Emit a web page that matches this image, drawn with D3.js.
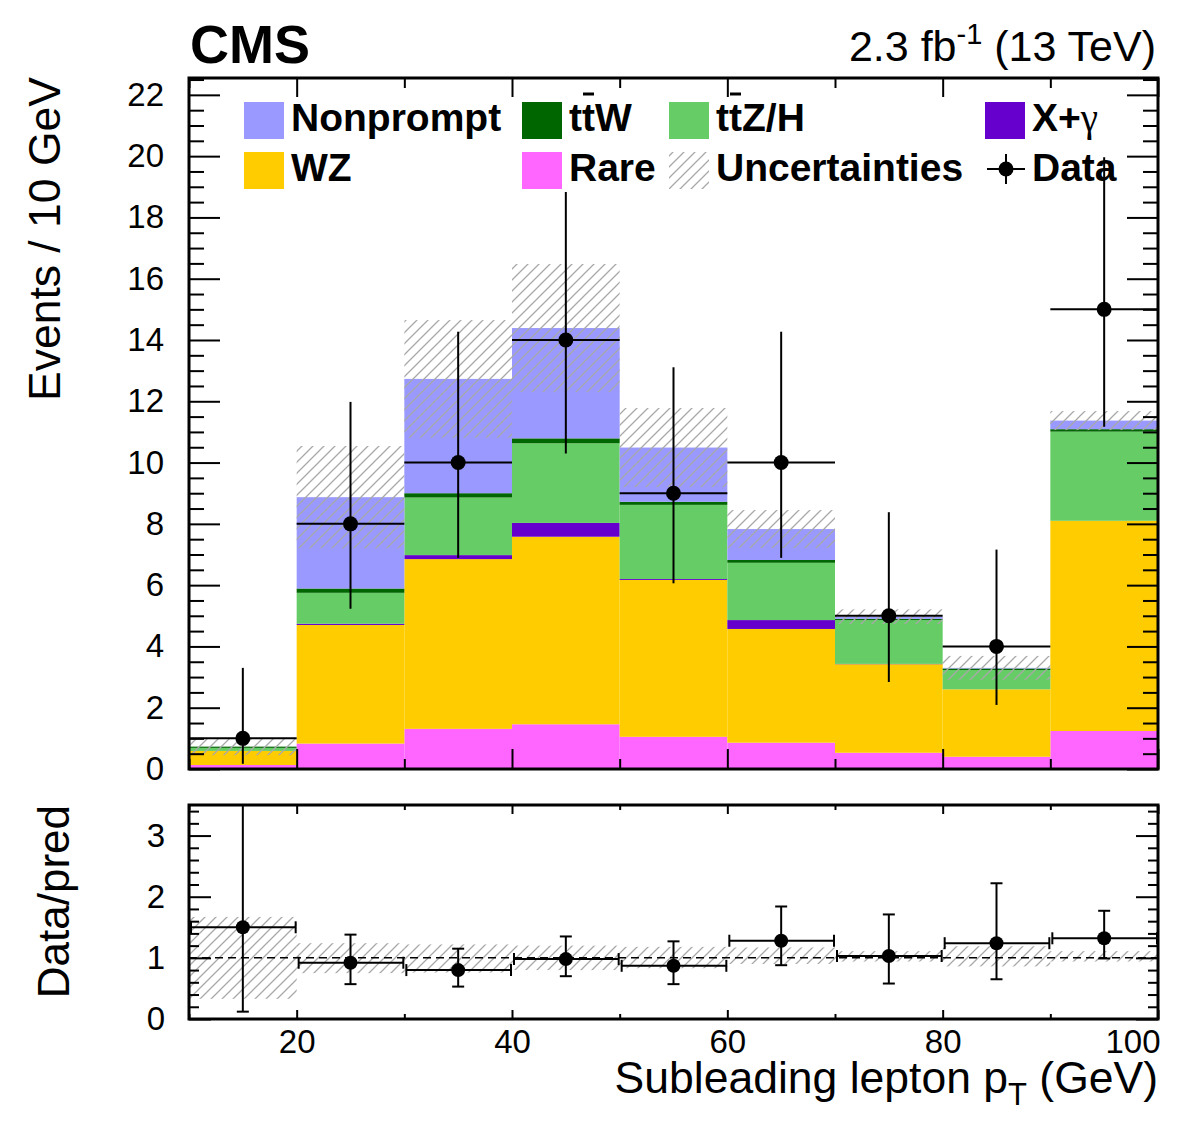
<!DOCTYPE html>
<html>
<head>
<meta charset="utf-8">
<script src="https://cdn.jsdelivr.net/npm/d3@7"></script>
<style>
  body { margin: 0; background: #fff; }
  text { font-family: "Liberation Sans", Arial, Helvetica, sans-serif; }
</style>
</head>
<body>
<svg id="chart"></svg>
<script>
// bins of subleading lepton pT (GeV)
const binEdges = [10, 20, 30, 40, 50, 60, 70, 80, 90, 100];

// stacked backgrounds, bottom to top (events per bin)
const rare      = [0.13, 0.83, 1.31, 1.46, 1.05, 0.86, 0.53, 0.40, 1.24];
const wz        = [0.46, 3.87, 5.54, 6.12, 5.12, 3.71, 2.89, 2.20, 6.86];
const xgamma    = [0.00, 0.04, 0.13, 0.45, 0.03, 0.29, 0.01, 0.00, 0.00];
const ttz       = [0.10, 1.01, 1.88, 2.60, 2.42, 1.87, 1.43, 0.63, 2.91];
const ttw       = [0.04, 0.14, 0.14, 0.16, 0.10, 0.09, 0.04, 0.05, 0.08];
const nonprompt = [0.00, 2.98, 3.73, 3.60, 1.77, 1.01, 0.07, 0.02, 0.28];
const mcUnc     = [0.28, 1.67, 1.92, 2.09, 1.29, 0.62, 0.24, 0.39, 0.31];

// observed data with asymmetric errors
const dataVals = [1, 8, 10, 14, 9, 10, 5, 4, 15];
const dataHi   = [3.30, 11.98, 14.27, 18.83, 13.11, 14.27, 8.38, 7.16, 19.96];
const dataLo   = [0.17, 5.23, 6.89, 10.30, 6.06, 6.89, 2.84, 2.09, 11.17];

// ratio panel
const ratioVals = [1.50, 0.92, 0.80, 0.98, 0.87, 1.28, 1.03, 1.24, 1.32];
const ratioHi   = [4.90, 1.38, 1.15, 1.35, 1.27, 1.84, 1.71, 2.22, 1.77];
const ratioLo   = [0.12, 0.57, 0.53, 0.70, 0.57, 0.88, 0.58, 0.65, 0.99];
const bandHi    = [1.67, 1.24, 1.22, 1.20, 1.18, 1.17, 1.11, 1.19, 1.11];
const bandLo    = [0.33, 0.75, 0.76, 0.80, 0.83, 0.90, 0.94, 0.86, 0.94];

const mainTicks = [0, 2, 4, 6, 8, 10, 12, 14, 16, 18, 20, 22];
const ratioTicks = [0, 1, 2, 3];
const xTicks = [20, 40, 60, 80, 100];

const keys = ["rare", "wz", "xgamma", "ttz", "ttw", "nonprompt"];
const colors = {
  rare: "#ff66ff", wz: "#ffcc00", xgamma: "#6600cc",
  ttz: "#66cc66", ttw: "#006600", nonprompt: "#9999ff"
};

const width = 1182, height = 1121;
const left = 189, right = 1158;
const mainTop = 78, mainBottom = 769;
const ratioTop = 805, ratioBottom = 1019;

const svg = d3.select("#chart").attr("width", width).attr("height", height);

const x = d3.scaleLinear().domain([10, 100]).range([left, right]);
const y = d3.scaleLinear().domain([0, 22.55]).range([mainBottom, mainTop]);
const yr = d3.scaleLinear().domain([0, 3.5]).range([ratioBottom, ratioTop]);

// hatch pattern
const defs = svg.append("defs");
const pat = defs.append("pattern")
  .attr("id", "hatch")
  .attr("patternUnits", "userSpaceOnUse")
  .attr("width", 11).attr("height", 11);
pat.append("path")
  .attr("d", "M0,11 L11,0 M-2,2 L2,-2 M9,13 L13,9")
  .attr("stroke", "#a8a8a8").attr("stroke-width", 1.3);

defs.append("clipPath").attr("id", "clipMain").append("rect")
  .attr("x", left).attr("y", mainTop).attr("width", right - left).attr("height", mainBottom - mainTop);
defs.append("clipPath").attr("id", "clipRatio").append("rect")
  .attr("x", left).attr("y", ratioTop).attr("width", right - left).attr("height", ratioBottom - ratioTop);

// stacked histogram
const rows = dataVals.map((_, i) => ({
  i, rare: rare[i], wz: wz[i], xgamma: xgamma[i], ttz: ttz[i], ttw: ttw[i], nonprompt: nonprompt[i]
}));
const stacked = d3.stack().keys(keys)(rows);
const totals = rows.map(r => keys.reduce((s, k) => s + r[k], 0));

const gMain = svg.append("g").attr("clip-path", "url(#clipMain)");

stacked.forEach(layer => {
  gMain.append("g").selectAll("rect")
    .data(layer)
    .join("rect")
    .attr("x", d => x(binEdges[d.data.i]))
    .attr("width", d => x(binEdges[d.data.i + 1]) - x(binEdges[d.data.i]))
    .attr("y", d => y(d[1]))
    .attr("height", d => Math.max(0, y(d[0]) - y(d[1])))
    .attr("fill", colors[layer.key]);
});

// uncertainty band
gMain.append("g").selectAll("rect")
  .data(totals)
  .join("rect")
  .attr("x", (d, i) => x(binEdges[i]))
  .attr("width", (d, i) => x(binEdges[i + 1]) - x(binEdges[i]))
  .attr("y", (d, i) => y(d + mcUnc[i]))
  .attr("height", (d, i) => y(Math.max(0, d - mcUnc[i])) - y(d + mcUnc[i]))
  .attr("fill", "url(#hatch)");

// ---- legend ----
const legend = svg.append("g");
const legRows = [131, 181];
const legEntries = [
  { col: 244, row: 0, key: "nonprompt", label: "Nonprompt" },
  { col: 522, row: 0, key: "ttw", label: "ttW", bar: true },
  { col: 669, row: 0, key: "ttz", label: "ttZ/H", bar: true },
  { col: 985, row: 0, key: "xgamma", label: "X+", gamma: true },
  { col: 244, row: 1, key: "wz", label: "WZ" },
  { col: 522, row: 1, key: "rare", label: "Rare" },
  { col: 669, row: 1, key: "unc", label: "Uncertainties" },
  { col: 985, row: 1, key: "data", label: "Data" }
];

legEntries.forEach(e => {
  const base = legRows[e.row];
  if (e.key === "data") {
    const cx = e.col + 21, cy = base - 12;
    legend.append("line").attr("x1", e.col + 2).attr("x2", e.col + 40).attr("y1", cy).attr("y2", cy)
      .attr("stroke", "#000").attr("stroke-width", 2);
    legend.append("line").attr("x1", cx).attr("x2", cx).attr("y1", cy - 15).attr("y2", cy + 15)
      .attr("stroke", "#000").attr("stroke-width", 2);
    legend.append("circle").attr("cx", cx).attr("cy", cy).attr("r", 7.5).attr("fill", "#000");
  } else {
    legend.append("rect")
      .attr("x", e.col).attr("y", base - 29).attr("width", 40).attr("height", 37)
      .attr("fill", e.key === "unc" ? "url(#hatch)" : colors[e.key]);
  }
  const t = legend.append("text")
    .attr("x", e.col + 47).attr("y", base)
    .attr("font-size", 39).attr("font-weight", "bold")
    .text(e.label);
  if (e.gamma) {
    t.append("tspan").attr("font-family", "'Liberation Serif', 'DejaVu Serif', serif")
      .attr("font-weight", "normal").text("γ");
  }
  if (e.bar) {
    const n = t.node();
    const x0 = n.getStartPositionOfChar(1).x;
    const x1 = n.getEndPositionOfChar(1).x;
    legend.append("line")
      .attr("x1", x0 + 1).attr("x2", x1 - 1)
      .attr("y1", base - 37).attr("y2", base - 37)
      .attr("stroke", "#000").attr("stroke-width", 3);
  }
});

// data points
const gData = svg.append("g").attr("clip-path", "url(#clipMain)");
dataVals.forEach((v, i) => {
  const cx = x((binEdges[i] + binEdges[i + 1]) / 2);
  gData.append("line")
    .attr("x1", x(binEdges[i])).attr("x2", x(binEdges[i + 1]))
    .attr("y1", y(v)).attr("y2", y(v))
    .attr("stroke", "#000").attr("stroke-width", 2);
  gData.append("line")
    .attr("x1", cx).attr("x2", cx)
    .attr("y1", y(dataHi[i])).attr("y2", y(dataLo[i]))
    .attr("stroke", "#000").attr("stroke-width", 2);
  gData.append("circle").attr("cx", cx).attr("cy", y(v)).attr("r", 7.5).attr("fill", "#000");
});

// ---- ratio panel ----
const gRatio = svg.append("g").attr("clip-path", "url(#clipRatio)");
gRatio.append("g").selectAll("rect")
  .data(bandHi)
  .join("rect")
  .attr("x", (d, i) => x(binEdges[i]))
  .attr("width", (d, i) => x(binEdges[i + 1]) - x(binEdges[i]))
  .attr("y", d => yr(d))
  .attr("height", (d, i) => yr(bandLo[i]) - yr(d))
  .attr("fill", "url(#hatch)");

gRatio.append("line")
  .attr("x1", left).attr("x2", right).attr("y1", yr(1)).attr("y2", yr(1))
  .attr("stroke", "#000").attr("stroke-width", 1.5).attr("stroke-dasharray", "8,5");

ratioVals.forEach((v, i) => {
  const cx = x((binEdges[i] + binEdges[i + 1]) / 2);
  const xa = x(binEdges[i]) + 2, xb = x(binEdges[i + 1]) - 1;
  gRatio.append("line").attr("x1", xa).attr("x2", xb).attr("y1", yr(v)).attr("y2", yr(v))
    .attr("stroke", "#000").attr("stroke-width", 2);
  [xa, xb].forEach(xx => gRatio.append("line")
    .attr("x1", xx).attr("x2", xx).attr("y1", yr(v) - 6).attr("y2", yr(v) + 6)
    .attr("stroke", "#000").attr("stroke-width", 2));
  gRatio.append("line").attr("x1", cx).attr("x2", cx).attr("y1", yr(ratioHi[i])).attr("y2", yr(ratioLo[i]))
    .attr("stroke", "#000").attr("stroke-width", 2);
  [ratioHi[i], ratioLo[i]].forEach(b => gRatio.append("line")
    .attr("x1", cx - 6).attr("x2", cx + 6).attr("y1", yr(b)).attr("y2", yr(b))
    .attr("stroke", "#000").attr("stroke-width", 2));
  gRatio.append("circle").attr("cx", cx).attr("cy", yr(v)).attr("r", 7).attr("fill", "#000");
});

// ---- axes / ticks ----
function tickGroup(axis, tx, ty) {
  svg.append("g").attr("transform", `translate(${tx},${ty})`)
    .call(axis)
    .call(g => g.select(".domain").remove())
    .call(g => g.selectAll("line").attr("stroke", "#000").attr("stroke-width", 2));
}
const none = () => "";
const mainMinor = d3.range(0, 22.51, 0.5).filter(v => v % 2 !== 0);
const ratioMinor = d3.range(0, 3.51, 0.2).filter(v => Math.abs(v - Math.round(v)) > 0.01);
const xMinor = [10, 30, 50, 70, 90];

tickGroup(d3.axisRight(y).tickValues(mainTicks).tickSize(31).tickFormat(none), left, 0);
tickGroup(d3.axisRight(y).tickValues(mainMinor).tickSize(15).tickFormat(none), left, 0);
tickGroup(d3.axisLeft(y).tickValues(mainTicks).tickSize(31).tickFormat(none), right, 0);
tickGroup(d3.axisLeft(y).tickValues(mainMinor).tickSize(15).tickFormat(none), right, 0);
tickGroup(d3.axisTop(x).tickValues(xTicks).tickSize(20).tickFormat(none), 0, mainBottom);
tickGroup(d3.axisTop(x).tickValues(xMinor).tickSize(10).tickFormat(none), 0, mainBottom);
tickGroup(d3.axisBottom(x).tickValues(xTicks).tickSize(19).tickFormat(none), 0, mainTop);
tickGroup(d3.axisBottom(x).tickValues(xMinor).tickSize(10).tickFormat(none), 0, mainTop);

tickGroup(d3.axisRight(yr).tickValues(ratioTicks).tickSize(22).tickFormat(none), left, 0);
tickGroup(d3.axisRight(yr).tickValues(ratioMinor).tickSize(10).tickFormat(none), left, 0);
tickGroup(d3.axisLeft(yr).tickValues(ratioTicks).tickSize(22).tickFormat(none), right, 0);
tickGroup(d3.axisLeft(yr).tickValues(ratioMinor).tickSize(10).tickFormat(none), right, 0);
tickGroup(d3.axisTop(x).tickValues(xTicks).tickSize(9).tickFormat(none), 0, ratioBottom);
tickGroup(d3.axisTop(x).tickValues(xMinor).tickSize(5).tickFormat(none), 0, ratioBottom);
tickGroup(d3.axisBottom(x).tickValues(xTicks).tickSize(9).tickFormat(none), 0, ratioTop);
tickGroup(d3.axisBottom(x).tickValues(xMinor).tickSize(5).tickFormat(none), 0, ratioTop);

// tick labels
function labelGroup(axis, tx, ty) {
  return svg.append("g").attr("transform", `translate(${tx},${ty})`)
    .call(axis)
    .call(g => g.select(".domain").remove())
    .call(g => g.selectAll("line").remove())
    .call(g => g.selectAll("text")
      .attr("font-size", 33)
      .attr("font-family", "'Liberation Sans', Arial, Helvetica, sans-serif")
      .attr("fill", "#000"));
}
labelGroup(d3.axisLeft(y).tickValues(mainTicks).tickFormat(d3.format("d")).tickSize(0).tickPadding(25), left, 0);
labelGroup(d3.axisLeft(yr).tickValues(ratioTicks).tickFormat(d3.format("d")).tickSize(0).tickPadding(24), left, 0);
labelGroup(d3.axisBottom(x).tickValues(xTicks).tickFormat(d3.format("d")).tickSize(0).tickPadding(11), 0, ratioBottom)
  .call(g => g.selectAll("text").attr("dy", "0.71em"))
  .call(g => g.selectAll(".tick").filter(d => d === 100).select("text")
    .attr("text-anchor", "end").attr("x", 2));

// frames
[[mainTop, mainBottom], [ratioTop, ratioBottom]].forEach(([t, b]) => {
  svg.append("rect")
    .attr("x", left).attr("y", t).attr("width", right - left).attr("height", b - t)
    .attr("fill", "none").attr("stroke", "#000").attr("stroke-width", 3);
});

// titles
svg.append("text").attr("x", 190).attr("y", 63)
  .attr("font-size", 54).attr("font-weight", "bold").text("CMS");

const lumi = svg.append("text").attr("x", 1156).attr("y", 61)
  .attr("font-size", 43).attr("text-anchor", "end");
lumi.append("tspan").text("2.3 fb");
lumi.append("tspan").attr("font-size", 29).attr("dy", -17).text("-1");
lumi.append("tspan").attr("dy", 17).text(" (13 TeV)");

svg.append("text")
  .attr("transform", "translate(60,77) rotate(-90)")
  .attr("text-anchor", "end").attr("font-size", 44.5)
  .text("Events / 10 GeV");

svg.append("text")
  .attr("transform", "translate(69,805) rotate(-90)")
  .attr("text-anchor", "end").attr("font-size", 44)
  .text("Data/pred");

const xt = svg.append("text").attr("x", 1158).attr("y", 1093)
  .attr("text-anchor", "end").attr("font-size", 44.5);
xt.append("tspan").text("Subleading lepton p");
xt.append("tspan").attr("font-size", 31).attr("dy", 12).text("T");
xt.append("tspan").attr("dy", -12).text(" (GeV)");
</script>
</body>
</html>
